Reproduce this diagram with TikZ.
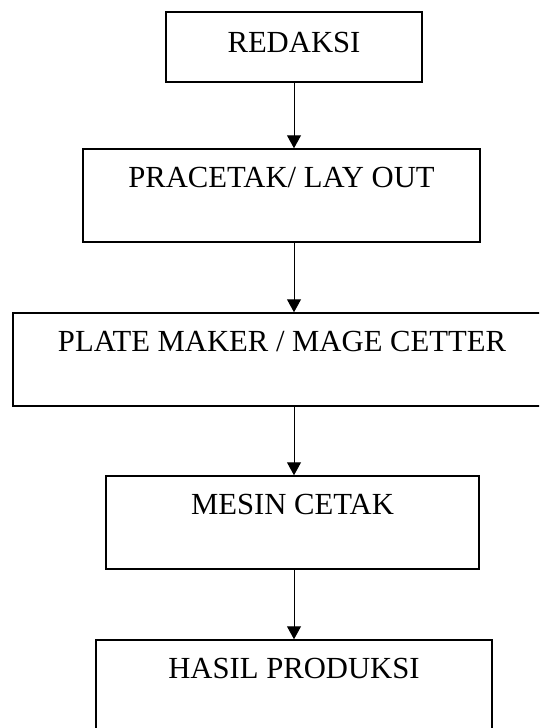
\documentclass[tikz,border=0pt]{standalone}
\usepackage{fontspec}
\setmainfont{Liberation Serif}
\usetikzlibrary{arrows.meta}

\tikzset{every picture/.style={line width=0.75pt}}
\tikzset{
	prosesbox/.style={draw, line width=1.1pt, inner sep=0pt, text height=29pt, text depth=40.75pt},
	alur/.style={-{Triangle[width=10.5pt,length=9.75pt]}, line width=0.75pt}
}

\begin{document}
\begin{tikzpicture}[x=0.75pt,y=0.75pt,yscale=-1,xscale=1,font=\fontsize{23pt}{28pt}\selectfont]
		\useasboundingbox (0,0) rectangle (539,728);
		\clip (0,0) rectangle (539,728);
		
		%Shape: Rectangle [id:redaksi] 
		\node [prosesbox, minimum width=192pt, text height=30pt, text depth=22.5pt] (redaksi) at (294,47) {REDAKSI};
		%Shape: Rectangle [id:pracetak] 
		\node [prosesbox, minimum width=297.75pt] (pracetak) at (281.5,195.5) {PRACETAK/ LAY OUT};
		%Shape: Rectangle [id:platemaker] 
		\node [prosesbox, minimum width=403.5pt] (platemaker) at (282,359.5) {PLATE MAKER / MAGE CETTER};
		%Shape: Rectangle [id:mesin] 
		\node [prosesbox, minimum width=279.75pt] (mesin) at (292.5,522.5) {MESIN CETAK};
		%Shape: Rectangle [id:hasil] 
		\node [prosesbox, minimum width=297pt] (hasil) at (294,686.5) {HASIL PRODUKSI};
		
		%Straight Lines
		\draw [alur] (redaksi.south) -- (redaksi.south |- pracetak.north) ;
		\draw [alur] (redaksi.south |- pracetak.south) -- (redaksi.south |- platemaker.north) ;
		\draw [alur] (redaksi.south |- platemaker.south) -- (redaksi.south |- mesin.north) ;
		\draw [alur] (redaksi.south |- mesin.south) -- (redaksi.south |- hasil.north) ;
		
\end{tikzpicture}
\end{document}
